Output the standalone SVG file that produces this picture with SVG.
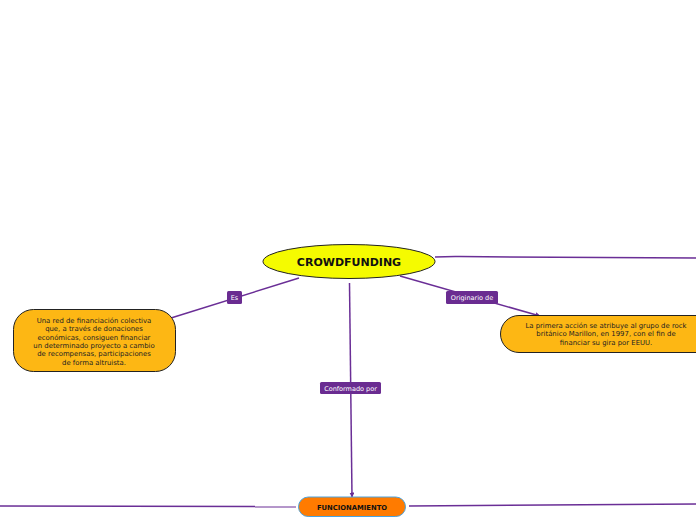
<svg xmlns="http://www.w3.org/2000/svg" width="696" height="520" viewBox="0 0 696 520">
<style>
.ln{fill:none;stroke:#6a2e96;stroke-width:1.5}
.lbl{fill:#6a2c91}
.lt{font-family:"DejaVu Sans",Verdana,sans-serif;font-size:6.5px;fill:#ffffff;text-anchor:middle}
.nt{font-family:"DejaVu Sans",Verdana,sans-serif;font-size:6.9px;fill:#222;text-anchor:middle}
.box{fill:#fdb714;stroke:#222;stroke-width:1}
</style>
<defs>
<marker id="ah" viewBox="0 0 10 10" refX="9" refY="5" markerWidth="5" markerHeight="5" orient="auto" markerUnits="userSpaceOnUse">
<path d="M0,0 L10,5 L0,10 z" fill="#6a2e96"/>
</marker>
</defs>
<rect width="696" height="520" fill="#ffffff"/>
<g id="connectors">
<path class="ln" d="M435,257 Q445,256.5 460,256.6 L696,258"/>
<path class="ln" d="M299,278 L171,318"/>
<path class="ln" d="M400,276 L540,316" marker-end="url(#ah)"/>
<path class="ln" d="M349.5,283 L352,497" marker-end="url(#ah)"/>
<path class="ln" d="M0,506 L255,506.5"/>
<path style="fill:none;stroke:#6a2e96;stroke-width:1" d="M255,507 L296,507"/>
<path class="ln" d="M409,506 L696,504"/>
<g id="label-es">
<rect class="lbl" x="227" y="291" width="15" height="13" rx="1.5"/>
<text class="lt" x="234.5" y="300">Es</text>
</g>
<g id="label-originario">
<rect class="lbl" x="446" y="291" width="52" height="13" rx="1.5"/>
<text class="lt" x="472" y="300">Originario de</text>
</g>
<g id="label-conformado">
<rect class="lbl" x="320" y="382" width="61" height="12" rx="1.5"/>
<text class="lt" x="350.5" y="390.5">Conformado por</text>
</g>
</g>
<g id="node-crowdfunding">
<ellipse cx="349" cy="261.5" rx="86" ry="17" fill="#f5fb00" stroke="#222" stroke-width="1"/>
<text x="349" y="265.5" font-family="'DejaVu Sans',Verdana,sans-serif" font-size="11" font-weight="bold" text-anchor="middle" fill="#111">CROWDFUNDING</text>
</g>
<g id="node-definicion">
<rect class="box" x="13.5" y="309.5" width="162" height="62" rx="20"/>
<text class="nt" x="94" y="323">Una red de financiación colectiva</text>
<text class="nt" x="94" y="331.3">que, a través de donaciones</text>
<text class="nt" x="94" y="339.6">económicas, consiguen financiar</text>
<text class="nt" x="94" y="347.9">un determinado proyecto a cambio</text>
<text class="nt" x="94" y="356.2">de recompensas, participaciones</text>
<text class="nt" x="94" y="364.5">de forma altruista.</text>
</g>
<g id="node-origen">
<rect class="box" x="500.5" y="315.5" width="230" height="37" rx="18.5"/>
<text class="nt" x="606" y="328">La primera acción se atribuye al grupo de rock</text>
<text class="nt" x="606" y="336.3">británico Marillon, en 1997, con el fin de</text>
<text class="nt" x="606" y="344.6">financiar su gira por EEUU.</text>
</g>
<g id="node-funcionamiento">
<rect x="298.5" y="497" width="107" height="19.5" rx="9.75" fill="#ff7b00" stroke="#4aa3df" stroke-width="1"/>
<text x="352" y="509.5" font-family="'DejaVu Sans',Verdana,sans-serif" font-size="6.8" font-weight="bold" text-anchor="middle" fill="#111">FUNCIONAMIENTO</text>
</g>
</svg>
